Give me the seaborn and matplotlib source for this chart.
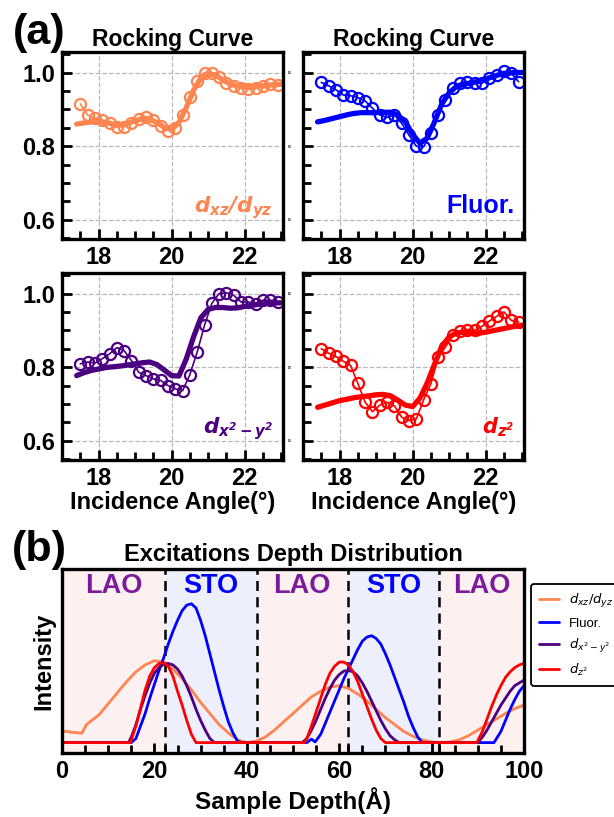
import matplotlib.pyplot as plt
import seaborn as sns
from matplotlib.ticker import MultipleLocator, FixedLocator

sns.set_style("ticks", {'axes.edgecolor': 'black', 'xtick.color': 'black', 'ytick.color': 'black',
                        'text.color': 'black', 'axes.labelcolor': 'black'})
plt.rcParams['font.family'] = ['Liberation Sans', 'DejaVu Sans']
plt.rcParams['mathtext.fontset'] = 'dejavusans'

# ---- panel (a): rocking curves ----
angle = [17.5, 17.7, 17.9, 18.1, 18.3, 18.5, 18.7, 18.9, 19.1, 19.3, 19.5, 19.7, 19.9, 20.1,
         20.3, 20.5, 20.7, 20.9, 21.1, 21.3, 21.5, 21.7, 21.9, 22.1, 22.3, 22.5, 22.7, 22.9]
angle_fit = [17.4, 17.6, 17.8, 18.0, 18.2, 18.4, 18.6, 18.8, 19.0, 19.2, 19.4, 19.6, 19.8, 20.0,
             20.2, 20.4, 20.6, 20.8, 21.0, 21.2, 21.4, 21.6, 21.8, 22.0, 22.2, 22.4, 22.6, 22.8, 23.0]

dxz_data = [0.915, 0.885, 0.876, 0.871, 0.862, 0.851, 0.853, 0.864, 0.875, 0.880, 0.871, 0.855, 0.842, 0.848,
            0.885, 0.933, 0.976, 1.000, 0.998, 0.987, 0.971, 0.963, 0.959, 0.954, 0.959, 0.963, 0.968, 0.965]
dxz_fit = [0.860, 0.863, 0.866, 0.867, 0.864, 0.860, 0.858, 0.862, 0.869, 0.874, 0.873, 0.864, 0.851, 0.846,
           0.864, 0.905, 0.952, 0.985, 0.997, 0.993, 0.980, 0.969, 0.963, 0.961, 0.961, 0.963, 0.965, 0.967, 0.968]

fluor_data = [0.973, 0.964, 0.953, 0.939, 0.937, 0.932, 0.923, 0.903, 0.885, 0.878, 0.885, 0.862, 0.830, 0.800,
              0.798, 0.835, 0.885, 0.926, 0.957, 0.971, 0.975, 0.971, 0.971, 0.985, 0.994, 1.003, 0.998, 0.975]
fluor_fit = [0.866, 0.870, 0.875, 0.880, 0.885, 0.889, 0.891, 0.891, 0.891, 0.892, 0.892, 0.884, 0.866, 0.832,
             0.808, 0.822, 0.866, 0.915, 0.945, 0.962, 0.968, 0.972, 0.976, 0.982, 0.989, 0.995, 0.998, 1.000, 1.000]

dx2_data = [0.809, 0.814, 0.811, 0.823, 0.836, 0.853, 0.845, 0.818, 0.786, 0.777, 0.768, 0.764, 0.750, 0.741,
            0.736, 0.780, 0.841, 0.914, 0.973, 1.000, 1.002, 0.995, 0.977, 0.977, 0.971, 0.982, 0.982, 0.977]
dx2_fit = [0.777, 0.785, 0.791, 0.795, 0.799, 0.801, 0.803, 0.806, 0.809, 0.812, 0.814, 0.807, 0.792, 0.777,
           0.776, 0.822, 0.882, 0.934, 0.957, 0.962, 0.962, 0.960, 0.961, 0.965, 0.968, 0.971, 0.973, 0.974, 0.975]

dz2_data = [0.850, 0.838, 0.829, 0.816, 0.805, 0.756, 0.705, 0.679, 0.697, 0.705, 0.695, 0.664, 0.655, 0.659,
            0.711, 0.755, 0.827, 0.855, 0.886, 0.898, 0.902, 0.900, 0.911, 0.925, 0.938, 0.950, 0.927, 0.923]
dz2_fit = [0.691, 0.697, 0.703, 0.709, 0.713, 0.717, 0.720, 0.722, 0.725, 0.726, 0.722, 0.710, 0.697, 0.693,
           0.716, 0.757, 0.808, 0.857, 0.882, 0.893, 0.895, 0.893, 0.892, 0.895, 0.899, 0.903, 0.907, 0.911, 0.914]

# ---- panel (b): excitation depth distribution ----
orange_depth = [0, 2, 4.3, 5.3, 8, 10, 12, 14, 16, 18, 20, 22, 24, 26, 28, 30, 32, 34, 36, 38, 40,
                42, 44, 46, 48, 50, 52, 54, 56, 58, 60, 62, 64, 66, 68, 70, 72, 74, 76, 78, 80,
                82, 84, 86, 88, 90, 92, 94, 96, 98, 100]
orange_int = [0.084, 0.075, 0.068, 0.13, 0.20, 0.28, 0.36, 0.44, 0.51, 0.56, 0.59, 0.58, 0.53, 0.46, 0.38,
              0.29, 0.21, 0.13, 0.07, 0.02, 0.0, 0.01, 0.04, 0.09, 0.15, 0.21, 0.27, 0.33, 0.37, 0.40, 0.41,
              0.39, 0.35, 0.30, 0.24, 0.18, 0.13, 0.08, 0.045, 0.02, 0.005, 0.0, 0.005, 0.02, 0.05, 0.09,
              0.13, 0.17, 0.21, 0.245, 0.27]

blue_depth = [0, 15, 16, 17, 18, 19, 20, 21, 22, 23, 24, 25, 26, 27, 28, 29, 30, 31, 32, 33, 34, 35, 36,
              37, 38, 39, 53, 54, 54.8, 56, 57, 58, 59, 60, 61, 62, 63, 64, 65, 66, 67, 68, 69, 70, 71,
              72, 73, 74, 75, 76, 77, 78, 93.5, 95, 96, 97, 98, 99, 100]
blue_int = [0, 0, 0.03, 0.12, 0.21, 0.32, 0.42, 0.52, 0.61, 0.71, 0.80, 0.88, 0.95, 0.99, 1.0, 0.97, 0.88,
            0.77, 0.64, 0.51, 0.38, 0.26, 0.15, 0.07, 0.01, 0, 0, 0.025, 0.005, 0.06, 0.14, 0.22, 0.30, 0.38,
            0.46, 0.53, 0.60, 0.67, 0.73, 0.76, 0.77, 0.75, 0.71, 0.64, 0.56, 0.47, 0.38, 0.29, 0.19, 0.11,
            0.04, 0, 0, 0.08, 0.16, 0.24, 0.31, 0.37, 0.41]

purple_depth = [0, 14.4, 15, 16, 17, 18, 19, 20, 21, 22, 23, 24, 25, 26, 27, 28, 29, 30, 31, 32, 33,
                52, 53, 54, 55, 56, 57, 58, 59, 60, 61, 62, 63, 64, 65, 66, 67, 68, 69, 70, 71, 72, 73,
                90, 91, 92, 93, 94, 95, 96, 97, 98, 99, 100]
purple_int = [0, 0, 0.04, 0.13, 0.24, 0.34, 0.43, 0.50, 0.54, 0.565, 0.57, 0.56, 0.53, 0.48, 0.41, 0.33,
              0.24, 0.16, 0.09, 0.03, 0, 0, 0.03, 0.09, 0.16, 0.24, 0.32, 0.39, 0.45, 0.49, 0.515, 0.52,
              0.51, 0.48, 0.43, 0.37, 0.30, 0.23, 0.16, 0.10, 0.05, 0.02, 0, 0, 0.04, 0.09, 0.15, 0.21,
              0.27, 0.32, 0.37, 0.41, 0.43, 0.45]

red_depth = [0, 14.8, 16, 17, 18, 19, 20, 21, 22, 23, 24, 25, 26, 27, 28, 29,
             52.5, 53, 54, 55, 56, 57, 58, 59, 60, 61, 62, 63, 64, 65, 66, 67, 68, 69, 70,
             89.8, 91, 92, 93, 94, 95, 96, 97, 98, 99, 100]
red_int = [0, 0, 0.12, 0.25, 0.38, 0.48, 0.54, 0.57, 0.575, 0.55, 0.48, 0.37, 0.27, 0.16, 0.06, 0,
           0, 0.03, 0.12, 0.22, 0.32, 0.42, 0.50, 0.55, 0.58, 0.58, 0.56, 0.51, 0.44, 0.35, 0.26, 0.17,
           0.09, 0.03, 0,
           0, 0.08, 0.17, 0.26, 0.34, 0.41, 0.47, 0.51, 0.54, 0.56, 0.57]

layer_edges = [0, 22.3, 42.1, 61.9, 81.7, 100]
layer_names = ['LAO', 'STO', 'LAO', 'STO', 'LAO']

c_orange = '#ff8550'
c_blue = '#0000ff'
c_purple = '#4b0082'
c_red = '#ff0000'

fig = plt.figure(figsize=(6.14, 8.17), dpi=100)

W, H = 0.36, 0.229
pos = [(0.101, 0.7075), (0.4935, 0.7075), (0.101, 0.437), (0.4935, 0.437)]
sets = [(dxz_data, dxz_fit, c_orange, r'$\mathbfit{d_{xz}/d_{yz}}$', 15.5),
        (fluor_data, fluor_fit, c_blue, 'Fluor.', 18),
        (dx2_data, dx2_fit, c_purple, r'$\mathbfit{d_{x^2-y^2}}$', 15.5),
        (dz2_data, dz2_fit, c_red, r'$\mathbfit{d_{z^2}}$', 15)]

for i, ((x0, y0), (data, fit, col, name, fs)) in enumerate(zip(pos, sets)):
    ax = fig.add_axes([x0, y0, W, H])
    sns.lineplot(x=angle, y=data, ax=ax, color=col, linewidth=1.2, marker='o', markersize=8,
                 markerfacecolor='none', markeredgecolor=col, markeredgewidth=1.6)
    sns.lineplot(x=angle_fit, y=fit, ax=ax, color=col, linewidth=3.8)
    ax.set_xlim(17.0, 23.05)
    ax.set_ylim(0.548, 1.056)
    ax.xaxis.set_major_locator(FixedLocator([18, 20, 22]))
    ax.xaxis.set_minor_locator(MultipleLocator(0.5))
    ax.yaxis.set_major_locator(FixedLocator([0.6, 0.8, 1.0]))
    ax.yaxis.set_minor_locator(MultipleLocator(0.05))
    ax.grid(True, which='major', linestyle='--', color='#b8b8b8', linewidth=0.9)
    ax.tick_params(which='both', direction='in', top=False, right=False, width=2,
                   labelsize=17, pad=5)
    ax.tick_params(which='major', length=7)
    ax.tick_params(which='minor', length=6)
    for s in ax.spines.values():
        s.set_linewidth(2.4)
    ax.set_yticklabels(['0.6', '0.8', '1.0'], fontweight='bold')
    if i % 2 == 1:
        ax.tick_params(axis='y', labelsize=2, pad=8)
    ax.set_xticklabels(['18', '20', '22'], fontweight='bold')
    if i < 2:
        ax.set_title('Rocking Curve', fontsize=16.5, fontweight='bold', pad=4)
    else:
        ax.set_xlabel('Incidence Angle(°)', fontsize=17, fontweight='bold', labelpad=1)
    ax.set_ylabel('')
    ax.text(0.955, 0.14, name, transform=ax.transAxes, ha='right', va='baseline',
            color=col, fontsize=fs, fontweight='bold')

fig.text(0.064, 0.959, '(a)', fontsize=31, fontweight='bold', ha='center', va='center')
fig.text(0.064, 0.3274, '(b)', fontsize=31, fontweight='bold', ha='center', va='center')

# ---- panel (b) ----
axb = fig.add_axes([0.101, 0.0783, 0.7524, 0.2252])
for k, name in enumerate(layer_names):
    lo, hi = layer_edges[k], layer_edges[k + 1]
    axb.axvspan(lo, hi, color='#fdf0f0' if name == 'LAO' else '#eeeffc', zorder=0, lw=0)
    axb.text((lo + hi) / 2, 1.125, name, ha='center', va='center', fontsize=19.5, fontweight='bold',
             color='#7b1a9c' if name == 'LAO' else c_blue)
for e in layer_edges[1:-1]:
    axb.axvline(e, color='black', linestyle='--', linewidth=1.8, dashes=(4, 2.5))

sns.lineplot(x=orange_depth, y=orange_int, ax=axb, color=c_orange, linewidth=2,
             label=r'$d_{xz}/d_{yz}$')
sns.lineplot(x=blue_depth, y=blue_int, ax=axb, color=c_blue, linewidth=2, label='Fluor.')
sns.lineplot(x=purple_depth, y=purple_int, ax=axb, color=c_purple, linewidth=2,
             label=r'$d_{x^2-y^2}$')
sns.lineplot(x=red_depth, y=red_int, ax=axb, color=c_red, linewidth=2, label=r'$d_{z^2}$')

axb.set_xlim(0, 100)
axb.set_ylim(-0.075, 1.25)
axb.xaxis.set_major_locator(MultipleLocator(20))
axb.xaxis.set_minor_locator(FixedLocator([5, 10, 15, 22.3, 25, 30, 35, 42.1, 45, 50, 55, 61.9,
                                          65, 70, 75, 81.7, 85, 90, 95]))
axb.set_yticks([])
axb.tick_params(which='both', direction='in', top=False, right=False, left=False, width=2,
                labelsize=17, pad=5)
axb.tick_params(which='major', length=7)
axb.tick_params(which='minor', length=6)
for lab in axb.get_xticklabels():
    lab.set_fontweight('bold')
for s in axb.spines.values():
    s.set_linewidth(2.4)
axb.set_title('Excitations Depth Distribution', fontsize=17, fontweight='bold', pad=6)
axb.set_xlabel('Sample Depth(Å)', fontsize=17.5, fontweight='bold', labelpad=3)
axb.set_ylabel('Intensity', fontsize=17, fontweight='bold', labelpad=5)
leg = axb.legend(loc='upper left', bbox_to_anchor=(1.015, 0.918), borderaxespad=0,
                 prop={'weight': 'normal', 'size': 9.5}, frameon=True, fancybox=True,
                 edgecolor='black', handlelength=1.5, labelspacing=0.55, borderpad=0.6)
leg.get_frame().set_linewidth(1.3)
leg.get_frame().set_alpha(1)

fig.savefig('out.png', dpi=100)
plt.close(fig)
